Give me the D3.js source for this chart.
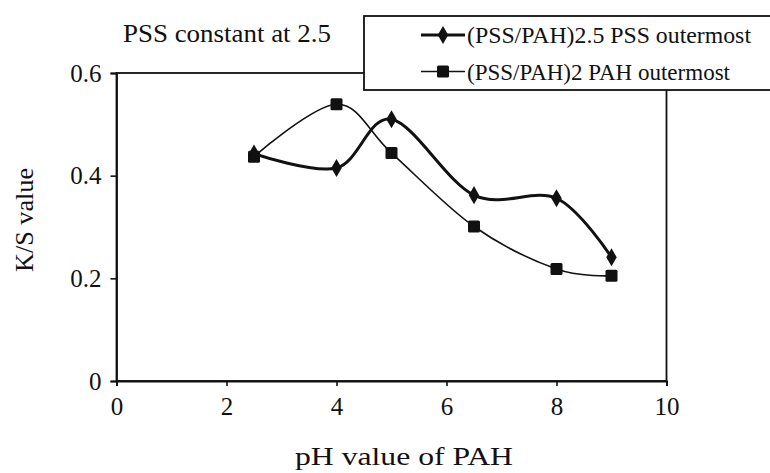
<!DOCTYPE html>
<html><head><meta charset="utf-8">
<script src="https://cdn.jsdelivr.net/npm/d3@7"></script>
</head><body style="margin:0;background:#fff">
<svg id="c" width="770" height="473" style="display:block"></svg>
<script>
const phValues = [2.5, 4, 5, 6.5, 8, 9];
const pssOutermost = [0.443, 0.415, 0.510, 0.362, 0.356, 0.241];
const pahOutermost = [0.437, 0.539, 0.444, 0.301, 0.218, 0.205];
const seriesNames = ["(PSS/PAH)2.5 PSS outermost", "(PSS/PAH)2 PAH outermost"];
const xTicks = [0, 2, 4, 6, 8, 10];
const yTicks = [0, 0.2, 0.4, 0.6];
const yTickLabels = ["0", "0.2", "0.4", "0.6"];

const FONT = "Liberation Serif";
const ink = "#111";
const x = d3.scaleLinear().domain([0, 10]).range([116.5, 666.5]);
const y = d3.scaleLinear().domain([0, 0.6]).range([381, 73]);

function fitText(sel, w) {
  sel.attr("textLength", w).attr("lengthAdjust", "spacingAndGlyphs");
}

function draw() {
  const svg = d3.select("#c");
  svg.selectAll("*").remove();

  svg.append("rect").attr("x", x(0)).attr("y", y(0.6)).attr("width", x(10) - x(0)).attr("height", y(0) - y(0.6))
    .attr("fill", "none").attr("stroke", ink).attr("stroke-width", 1.8);

  const xAxis = svg.append("g").attr("transform", `translate(0,${y(0)})`)
    .call(d3.axisBottom(x).tickValues(xTicks).tickSize(5).tickPadding(11).tickFormat(d3.format("d")));
  const yAxis = svg.append("g").attr("transform", `translate(${x(0)},0)`)
    .call(d3.axisLeft(y).tickValues(yTicks).tickSize(6).tickPadding(9).tickFormat((d, i) => yTickLabels[i]));
  [xAxis, yAxis].forEach(g => {
    g.attr("font-family", null).attr("font-size", null);
    g.select(".domain").attr("stroke", ink).attr("stroke-width", 1.8);
    g.selectAll(".tick line").attr("stroke", ink).attr("stroke-width", 1.6);
    g.selectAll(".tick text").attr("font-size", 25).attr("font-family", FONT).attr("fill", ink);
  });

  const line = d3.line().x(d => x(d[0])).y(d => y(d[1])).curve(d3.curveCardinal.tension(0));
  const d1 = phValues.map((p, i) => [p, pssOutermost[i]]);
  const d2 = phValues.map((p, i) => [p, pahOutermost[i]]);

  svg.append("path").attr("d", line(d2)).attr("fill", "none").attr("stroke", ink).attr("stroke-width", 1.6);
  svg.append("path").attr("d", line(d1)).attr("fill", "none").attr("stroke", ink).attr("stroke-width", 3);

  const diamond = d3.symbol().type(d3.symbolDiamond).size(95);
  svg.selectAll(".sq").data(d2).join("rect").attr("class", "sq")
    .attr("x", d => x(d[0]) - 6).attr("y", d => y(d[1]) - 6).attr("width", 12).attr("height", 12).attr("rx", 1.5).attr("fill", ink);
  svg.selectAll(".dm").data(d1).join("path").attr("class", "dm")
    .attr("transform", d => `translate(${x(d[0])},${y(d[1])})`).attr("d", diamond).attr("fill", ink);

  svg.append("rect").attr("x", 364).attr("y", 16).attr("width", 420).attr("height", 74)
    .attr("fill", "#fff").attr("stroke", ink).attr("stroke-width", 1.8);
  const legY = [35, 71.5];
  svg.append("line").attr("x1", 421).attr("x2", 465).attr("y1", legY[0]).attr("y2", legY[0]).attr("stroke", ink).attr("stroke-width", 3);
  svg.append("path").attr("transform", `translate(443,${legY[0]})`).attr("d", diamond).attr("fill", ink);
  svg.append("line").attr("x1", 421).attr("x2", 465).attr("y1", legY[1]).attr("y2", legY[1]).attr("stroke", ink).attr("stroke-width", 1.6);
  svg.append("rect").attr("x", 437).attr("y", legY[1] - 6).attr("width", 12).attr("height", 12).attr("rx", 1.5).attr("fill", ink);
  const legW = [284, 263];
  seriesNames.forEach((n, i) => svg.append("text").attr("x", 467).attr("y", legY[i] + 8).attr("font-size", 24)
    .attr("font-family", FONT).attr("fill", ink).text(n).call(fitText, legW[i]));

  svg.append("text").attr("x", 123).attr("y", 42).attr("font-size", 25).attr("font-family", FONT).attr("fill", ink)
    .text("PSS constant at 2.5").call(fitText, 208);
  svg.append("text").attr("transform", "translate(33,220) rotate(-90)").attr("text-anchor", "middle").attr("font-size", 25)
    .attr("font-family", FONT).attr("fill", ink).text("K/S value").call(fitText, 104);
  svg.append("text").attr("x", 404).attr("y", 465).attr("text-anchor", "middle").attr("font-size", 25)
    .attr("font-family", FONT).attr("fill", ink).text("pH value of PAH").call(fitText, 218);
}

draw();
if (document.fonts) {
  document.fonts.load("25px 'Liberation Serif'").then(draw).catch(() => {});
  document.fonts.ready.then(draw);
}
setTimeout(draw, 30);
</script>
</body></html>
